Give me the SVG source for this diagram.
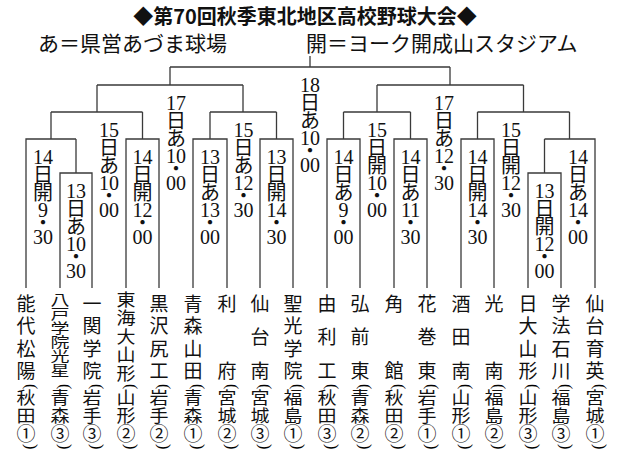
<svg xmlns="http://www.w3.org/2000/svg" width="619" height="457" viewBox="0 0 619 457">
<style>
.ln{fill:none;stroke:#3a3a3a;stroke-width:1.3}
.h1{font-family:"Noto Sans CJK JP",sans-serif;font-size:20px;font-weight:bold;text-anchor:middle;fill:#111}
.h2{font-family:"Noto Sans CJK JP",sans-serif;font-size:21px;fill:#111}
.t text{font-family:"Noto Sans CJK JP",sans-serif;font-size:19px;text-anchor:middle;dominant-baseline:central;fill:#111}
.t text.p{font-family:"Liberation Sans",sans-serif;font-size:15px}
.l text{font-family:"Liberation Serif","Noto Sans CJK JP",serif;font-size:20px;text-anchor:middle;dominant-baseline:central;fill:#111}
</style>
<defs>
<g id="pp"><text class="p" transform="translate(0,384) rotate(90)">(</text><text class="p" transform="translate(0,444) rotate(90)">)</text></g>
</defs>
<rect width="619" height="457" fill="#fff"/>
<text class="h1" x="305" y="24">◆第70回秋季東北地区高校野球大会◆</text>
<text class="h2" x="38" y="51">あ＝県営あづま球場</text>
<text class="h2" x="306" y="51">開＝ヨーク開成山スタジアム</text>
<g id="connectors" class="ln">
<path d="M60 288V173H92V288M76 173V139M26 288V139H76M51 139V112"/>
<path d="M126 288V139H159V288M142.5 139V112M51 112H142.5M97 112V85"/>
<path d="M193 288V139H227V288M210 139V112M260 288V139H293V288M276.5 139V112M210 112H276.5M243 112V85M97 85H243M170 85V67"/>
<path d="M327 288V139H360V288M343.5 139V112M394 288V139H427V288M410.5 139V112M343.5 112H410.5M377 112V85"/>
<path d="M461 288V139H494V288M477.5 139V112M528 288V173H561V288M544.5 173V139M595 288V139H544.5M569.5 139V112M477.5 112H569.5M523.5 112V85M377 85H523.5M450 85V67"/>
<path d="M170 67H450M310 67V56"/>
</g>
<g id="matches" class="l">
<g id="m1" transform="translate(43,157)"><text y="0">14</text><text y="18">日</text><text y="36">開</text><text y="53">9</text><text y="66">・</text><text y="80">30</text></g>
<g id="m2" transform="translate(76,191)"><text y="0">13</text><text y="18">日</text><text y="36">あ</text><text y="53">10</text><text y="66">・</text><text y="80">30</text></g>
<g id="m3" transform="translate(109,130)"><text y="0">15</text><text y="18">日</text><text y="36">あ</text><text y="53">10</text><text y="66">・</text><text y="80">00</text></g>
<g id="m4" transform="translate(142.5,157)"><text y="0">14</text><text y="18">日</text><text y="36">開</text><text y="53">12</text><text y="66">・</text><text y="80">00</text></g>
<g id="m5" transform="translate(176,103)"><text y="0">17</text><text y="18">日</text><text y="36">あ</text><text y="53">10</text><text y="66">・</text><text y="80">00</text></g>
<g id="m6" transform="translate(210,157)"><text y="0">13</text><text y="18">日</text><text y="36">あ</text><text y="53">13</text><text y="66">・</text><text y="80">00</text></g>
<g id="m7" transform="translate(243.5,130)"><text y="0">15</text><text y="18">日</text><text y="36">あ</text><text y="53">12</text><text y="66">・</text><text y="80">30</text></g>
<g id="m8" transform="translate(276.5,157)"><text y="0">13</text><text y="18">日</text><text y="36">開</text><text y="53">14</text><text y="66">・</text><text y="80">30</text></g>
<g id="m9" transform="translate(310,85)"><text y="0">18</text><text y="18">日</text><text y="36">あ</text><text y="53">10</text><text y="66">・</text><text y="80">00</text></g>
<g id="m10" transform="translate(343.5,157)"><text y="0">14</text><text y="18">日</text><text y="36">あ</text><text y="53">9</text><text y="66">・</text><text y="80">00</text></g>
<g id="m11" transform="translate(377,130)"><text y="0">15</text><text y="18">日</text><text y="36">開</text><text y="53">10</text><text y="66">・</text><text y="80">00</text></g>
<g id="m12" transform="translate(410.5,157)"><text y="0">14</text><text y="18">日</text><text y="36">あ</text><text y="53">11</text><text y="66">・</text><text y="80">30</text></g>
<g id="m13" transform="translate(444,103)"><text y="0">17</text><text y="18">日</text><text y="36">あ</text><text y="53">12</text><text y="66">・</text><text y="80">30</text></g>
<g id="m14" transform="translate(477.5,157)"><text y="0">14</text><text y="18">日</text><text y="36">開</text><text y="53">14</text><text y="66">・</text><text y="80">30</text></g>
<g id="m15" transform="translate(511,130)"><text y="0">15</text><text y="18">日</text><text y="36">開</text><text y="53">12</text><text y="66">・</text><text y="80">30</text></g>
<g id="m16" transform="translate(544.5,191)"><text y="0">13</text><text y="18">日</text><text y="36">開</text><text y="53">12</text><text y="66">・</text><text y="80">00</text></g>
<g id="m17" transform="translate(578,157)"><text y="0">14</text><text y="18">日</text><text y="36">あ</text><text y="53">14</text><text y="66">・</text><text y="80">00</text></g>
</g>
<g id="teams" class="t">
<g id="t1" transform="translate(26,0)"><text y="302">能</text><text y="324">代</text><text y="347">松</text><text y="369">陽</text><use href="#pp"/><text transform="translate(0,397) scale(1,0.88)">秋</text><text transform="translate(0,415) scale(1,0.88)">田</text><text y="432">①</text></g>
<g id="t2" transform="translate(60,0)"><text transform="translate(0,299) scale(1,0.72)">八</text><text transform="translate(0,313) scale(1,0.72)">戸</text><text transform="translate(0,327) scale(1,0.72)">学</text><text transform="translate(0,341) scale(1,0.72)">院</text><text transform="translate(0,355) scale(1,0.72)">光</text><text transform="translate(0,369) scale(1,0.72)">星</text><use href="#pp"/><text transform="translate(0,397) scale(1,0.88)">青</text><text transform="translate(0,415) scale(1,0.88)">森</text><text y="432">③</text></g>
<g id="t3" transform="translate(92,0)"><text y="302">一</text><text y="324">関</text><text y="347">学</text><text y="369">院</text><use href="#pp"/><text transform="translate(0,397) scale(1,0.88)">岩</text><text transform="translate(0,415) scale(1,0.88)">手</text><text y="432">③</text></g>
<g id="t4" transform="translate(126,0)"><text transform="translate(0,298) scale(1,0.9)">東</text><text transform="translate(0,316.5) scale(1,0.9)">海</text><text transform="translate(0,335) scale(1,0.9)">大</text><text transform="translate(0,353.5) scale(1,0.9)">山</text><text transform="translate(0,372) scale(1,0.9)">形</text><use href="#pp"/><text transform="translate(0,397) scale(1,0.88)">山</text><text transform="translate(0,415) scale(1,0.88)">形</text><text y="432">②</text></g>
<g id="t5" transform="translate(159,0)"><text y="302">黒</text><text y="324">沢</text><text y="347">尻</text><text y="369">工</text><use href="#pp"/><text transform="translate(0,397) scale(1,0.88)">岩</text><text transform="translate(0,415) scale(1,0.88)">手</text><text y="432">②</text></g>
<g id="t6" transform="translate(193,0)"><text y="302">青</text><text y="324">森</text><text y="347">山</text><text y="369">田</text><use href="#pp"/><text transform="translate(0,397) scale(1,0.88)">青</text><text transform="translate(0,415) scale(1,0.88)">森</text><text y="432">①</text></g>
<g id="t7" transform="translate(227,0)"><text y="302">利</text><text y="369">府</text><use href="#pp"/><text transform="translate(0,397) scale(1,0.88)">宮</text><text transform="translate(0,415) scale(1,0.88)">城</text><text y="432">②</text></g>
<g id="t8" transform="translate(260,0)"><text y="302">仙</text><text y="335.5">台</text><text y="369">南</text><use href="#pp"/><text transform="translate(0,397) scale(1,0.88)">宮</text><text transform="translate(0,415) scale(1,0.88)">城</text><text y="432">③</text></g>
<g id="t9" transform="translate(293,0)"><text y="302">聖</text><text y="324">光</text><text y="347">学</text><text y="369">院</text><use href="#pp"/><text transform="translate(0,397) scale(1,0.88)">福</text><text transform="translate(0,415) scale(1,0.88)">島</text><text y="432">①</text></g>
<g id="t10" transform="translate(327,0)"><text y="302">由</text><text y="335.5">利</text><text y="369">工</text><use href="#pp"/><text transform="translate(0,397) scale(1,0.88)">秋</text><text transform="translate(0,415) scale(1,0.88)">田</text><text y="432">③</text></g>
<g id="t11" transform="translate(360,0)"><text y="302">弘</text><text y="335.5">前</text><text y="369">東</text><use href="#pp"/><text transform="translate(0,397) scale(1,0.88)">青</text><text transform="translate(0,415) scale(1,0.88)">森</text><text y="432">②</text></g>
<g id="t12" transform="translate(394,0)"><text y="302">角</text><text y="369">館</text><use href="#pp"/><text transform="translate(0,397) scale(1,0.88)">秋</text><text transform="translate(0,415) scale(1,0.88)">田</text><text y="432">②</text></g>
<g id="t13" transform="translate(427,0)"><text y="302">花</text><text y="335.5">巻</text><text y="369">東</text><use href="#pp"/><text transform="translate(0,397) scale(1,0.88)">岩</text><text transform="translate(0,415) scale(1,0.88)">手</text><text y="432">①</text></g>
<g id="t14" transform="translate(461,0)"><text y="302">酒</text><text y="335.5">田</text><text y="369">南</text><use href="#pp"/><text transform="translate(0,397) scale(1,0.88)">山</text><text transform="translate(0,415) scale(1,0.88)">形</text><text y="432">①</text></g>
<g id="t15" transform="translate(494,0)"><text y="302">光</text><text y="369">南</text><use href="#pp"/><text transform="translate(0,397) scale(1,0.88)">福</text><text transform="translate(0,415) scale(1,0.88)">島</text><text y="432">②</text></g>
<g id="t16" transform="translate(528,0)"><text y="302">日</text><text y="324">大</text><text y="347">山</text><text y="369">形</text><use href="#pp"/><text transform="translate(0,397) scale(1,0.88)">山</text><text transform="translate(0,415) scale(1,0.88)">形</text><text y="432">③</text></g>
<g id="t17" transform="translate(561,0)"><text y="302">学</text><text y="324">法</text><text y="347">石</text><text y="369">川</text><use href="#pp"/><text transform="translate(0,397) scale(1,0.88)">福</text><text transform="translate(0,415) scale(1,0.88)">島</text><text y="432">③</text></g>
<g id="t18" transform="translate(595,0)"><text y="302">仙</text><text y="324">台</text><text y="347">育</text><text y="369">英</text><use href="#pp"/><text transform="translate(0,397) scale(1,0.88)">宮</text><text transform="translate(0,415) scale(1,0.88)">城</text><text y="432">①</text></g>
</g>
</svg>
